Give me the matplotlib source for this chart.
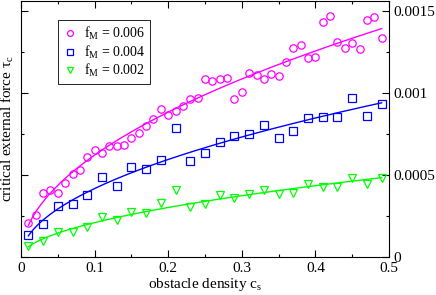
import numpy as np
import matplotlib
matplotlib.use('Agg')
import matplotlib.pyplot as plt
from matplotlib.ticker import MultipleLocator, FixedLocator

plt.rcParams['font.family'] = 'serif'
plt.rcParams['font.serif'] = ['Liberation Serif', 'DejaVu Serif']
plt.rcParams['mathtext.fontset'] = 'custom'
plt.rcParams['mathtext.rm'] = 'Liberation Serif'
plt.rcParams['mathtext.it'] = 'Liberation Serif:italic'

# data (tau_c in units of 1e-3)
cs_06 = np.round(np.arange(1, 50) * 0.01, 2)
tau_06 = [0.209, 0.256, 0.388, 0.408, 0.392, 0.450, 0.506, 0.530, 0.612, 0.652,
          0.636, 0.677, 0.677, 0.683, 0.723, 0.758, 0.799, 0.840, 0.900, 0.866,
          0.892, 0.920, 0.962, 0.968, 1.083, 1.070, 1.083, 1.090, 0.962, 1.008,
          1.120, 1.110, 1.087, 1.116, 1.100, 1.190, 1.276, 1.293, 1.210, 1.220,
          1.429, 1.471, 1.311, 1.276, 1.303, 1.266, 1.445, 1.461, 1.333]

cs_04 = np.round(np.arange(1, 50, 2) * 0.01, 2)
tau_04 = [0.134, 0.201, 0.313, 0.321, 0.378, 0.490, 0.433, 0.551, 0.535, 0.591,
          0.785, 0.585, 0.636, 0.703, 0.738, 0.750, 0.807, 0.724, 0.768, 0.846,
          0.852, 0.852, 0.970, 0.862, 0.931]

cs_02 = np.round(np.arange(1, 50, 2) * 0.01, 2)
tau_02 = [0.067, 0.098, 0.150, 0.154, 0.185, 0.246, 0.226, 0.272, 0.266, 0.327,
          0.409, 0.307, 0.321, 0.375, 0.362, 0.384, 0.409, 0.384, 0.388, 0.443,
          0.425, 0.425, 0.484, 0.445, 0.480]

series = [
    (cs_06, tau_06, '#ff00ff', 'o', r'f$_\mathrm{M}$ = 0.006'),
    (cs_04, tau_04, '#0000ff', 's', r'f$_\mathrm{M}$ = 0.004'),
    (cs_02, tau_02, '#00ff00', 'v', r'f$_\mathrm{M}$ = 0.002'),
]

fig = plt.figure(figsize=(4.36, 2.95), dpi=100)
ax = fig.add_axes([21/436, 1 - 257/295, 368/436, 256/295])

for x, y, col, mk, lab in series:
    x = np.asarray(x)
    y = np.asarray(y) * 1e-3
    ax.plot(x, y, linestyle='none', marker=mk, markersize=5.3,
            markerfacecolor='none', markeredgecolor=col, markeredgewidth=0.9,
            label=lab)
    # power law fit through the points
    b, lna = np.polyfit(np.log(x), np.log(y), 1)
    xf = np.linspace(x.min(), x.max(), 200)
    ax.plot(xf, np.exp(lna) * xf**b, color=col, linewidth=1.0)

ax.set_xlim(0, 0.5)
ax.set_ylim(0, 0.00156)
ax.xaxis.set_major_locator(FixedLocator([0, 0.1, 0.2, 0.3, 0.4, 0.5]))
ax.set_xticklabels(['0', '0.1', '0.2', '0.3', '0.4', '0.5'])
ax.xaxis.set_minor_locator(MultipleLocator(0.05))
ax.yaxis.set_major_locator(FixedLocator([0, 0.0005, 0.001, 0.0015]))
ax.set_yticklabels(['0', '0.0005', '0.001', '0.0015'])
ax.yaxis.set_minor_locator(MultipleLocator(0.00025))

ax.tick_params(which='both', direction='in', top=True, right=True,
               left=True, bottom=True, labelsize=11, width=0.8)
ax.tick_params(axis='y', labelleft=False, labelright=True, pad=3)
ax.tick_params(which='major', length=5)
ax.tick_params(which='minor', length=2.5)
for s in ax.spines.values():
    s.set_linewidth(0.8)

ax.set_xlabel(r'obstacle density c$_\mathrm{s}$', fontsize=11, labelpad=1)
ax.set_ylabel(r'critical external force τ$_\mathrm{c}$', fontsize=11, labelpad=0.5)

leg = ax.legend(loc='upper left', bbox_to_anchor=(0.1005, 0.926),
                borderaxespad=0, fontsize=10, handlelength=1.1,
                handletextpad=0.4, borderpad=0.35, labelspacing=0.12,
                markerscale=0.8, fancybox=False, framealpha=1,
                edgecolor='black')
leg.get_frame().set_linewidth(0.6)

fig.savefig('out.png', dpi=100)
